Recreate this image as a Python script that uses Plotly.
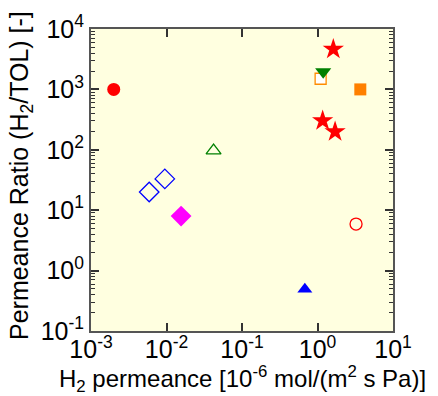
import plotly.graph_objects as go

x_red_circle = [0.002]; y_red_circle = [1000]
x_blue_diamonds = [0.0059, 0.0095]; y_blue_diamonds = [20, 33]
x_green_tri_open = [0.042]; y_green_tri_open = [97]
x_magenta_diamond = [0.0156]; y_magenta_diamond = [8.0]
x_red_stars = [1.62, 1.17, 1.71]; y_red_stars = [4620, 303, 200]
x_green_tri_down = [1.19]; y_green_tri_down = [1960]
x_orange_sq_open = [1.10]; y_orange_sq_open = [1500]
x_orange_sq = [3.69]; y_orange_sq = [1000]
x_red_circle_open = [3.24]; y_red_circle_open = [5.9]
x_blue_tri = [0.68]; y_blue_tri = [0.49]

xtick_vals = [1e-3, 1e-2, 1e-1, 1, 10]
xtick_text = ["10<sup>-3</sup>", "10<sup>-2</sup>", "10<sup>-1</sup>", "10<sup>0</sup>", "10<sup>1</sup>"]
ytick_vals = [1e-1, 1, 10, 100, 1000, 10000]
ytick_text = ["10<sup>-1</sup>", "10<sup>0</sup>", "10<sup>1</sup>", "10<sup>2</sup>", "10<sup>3</sup>", "10<sup>4</sup>"]

fig = go.Figure()

def add(x, y, symbol, color, size, open_=False, fill="rgba(0,0,0,0)", lw=1.3):
    if open_:
        marker = dict(symbol=symbol, size=size, color=fill, line=dict(color=color, width=lw))
    else:
        marker = dict(symbol=symbol, size=size, color=color, line=dict(width=0))
    fig.add_trace(go.Scatter(x=x, y=y, mode="markers", marker=marker, showlegend=False))

add(x_red_circle, y_red_circle, "circle", "#ff0000", 13)
add(x_blue_diamonds, y_blue_diamonds, "diamond", "#0000ff", 15, open_=True)
add(x_green_tri_open, y_green_tri_open, "triangle-up", "#008000", 13, open_=True)
add(x_magenta_diamond, y_magenta_diamond, "diamond", "#ff00ff", 16)
add(x_red_stars, y_red_stars, "star", "#ff0000", 16)
add(x_orange_sq_open, y_orange_sq_open, "square", "#ff8c00", 11, open_=True, fill="white")
add(x_green_tri_down, y_green_tri_down, "triangle-down", "#008000", 14)
add(x_orange_sq, y_orange_sq, "square", "#ff8000", 12)
add(x_red_circle_open, y_red_circle_open, "circle", "#ff0000", 12, open_=True)
add(x_blue_tri, y_blue_tri, "triangle-up", "#0000ff", 13)

font = "Liberation Sans, Arial, sans-serif"
axis_common = dict(type="log", showgrid=False, zeroline=False, showline=True,
                   linecolor="#555555", linewidth=2, mirror="allticks",
                   ticks="inside", tickcolor="#333333", tickwidth=1.5,
                   tickfont=dict(family=font, size=25, color="black"))

fig.update_xaxes(range=[-3, 1], tickvals=xtick_vals, ticktext=xtick_text, ticklen=8,
                 ticklabelstandoff=-5, **axis_common)
fig.update_yaxes(range=[-1, 4], tickvals=ytick_vals, ticktext=ytick_text, ticklen=8,
                 minor=dict(ticks="inside", ticklen=4, tickcolor="#333333", tickwidth=1.2,
                            tickvals=[m * 10**e for e in range(-1, 4) for m in range(2, 10)]),
                 **axis_common)

fig.update_layout(
    width=438, height=396,
    margin=dict(l=91, r=45, t=29, b=65),
    plot_bgcolor="#ffffe0", paper_bgcolor="white",
    font=dict(family=font, color="black"),
    annotations=[
        dict(text="H<sub>2</sub> permeance [10<sup>-6</sup> mol/(m<sup>2</sup> s Pa)]",
             xref="paper", yref="paper", x=0.5, y=-0.16, xanchor="center", yanchor="middle",
             showarrow=False, font=dict(size=24, family=font)),
        dict(text="Permeance Ratio (H<sub>2</sub>/TOL) [-]", textangle=-90,
             xref="paper", yref="paper", x=-0.23, y=0.515, xanchor="center", yanchor="middle",
             showarrow=False, font=dict(size=25, family=font)),
    ],
)

fig.write_html("out.html")
